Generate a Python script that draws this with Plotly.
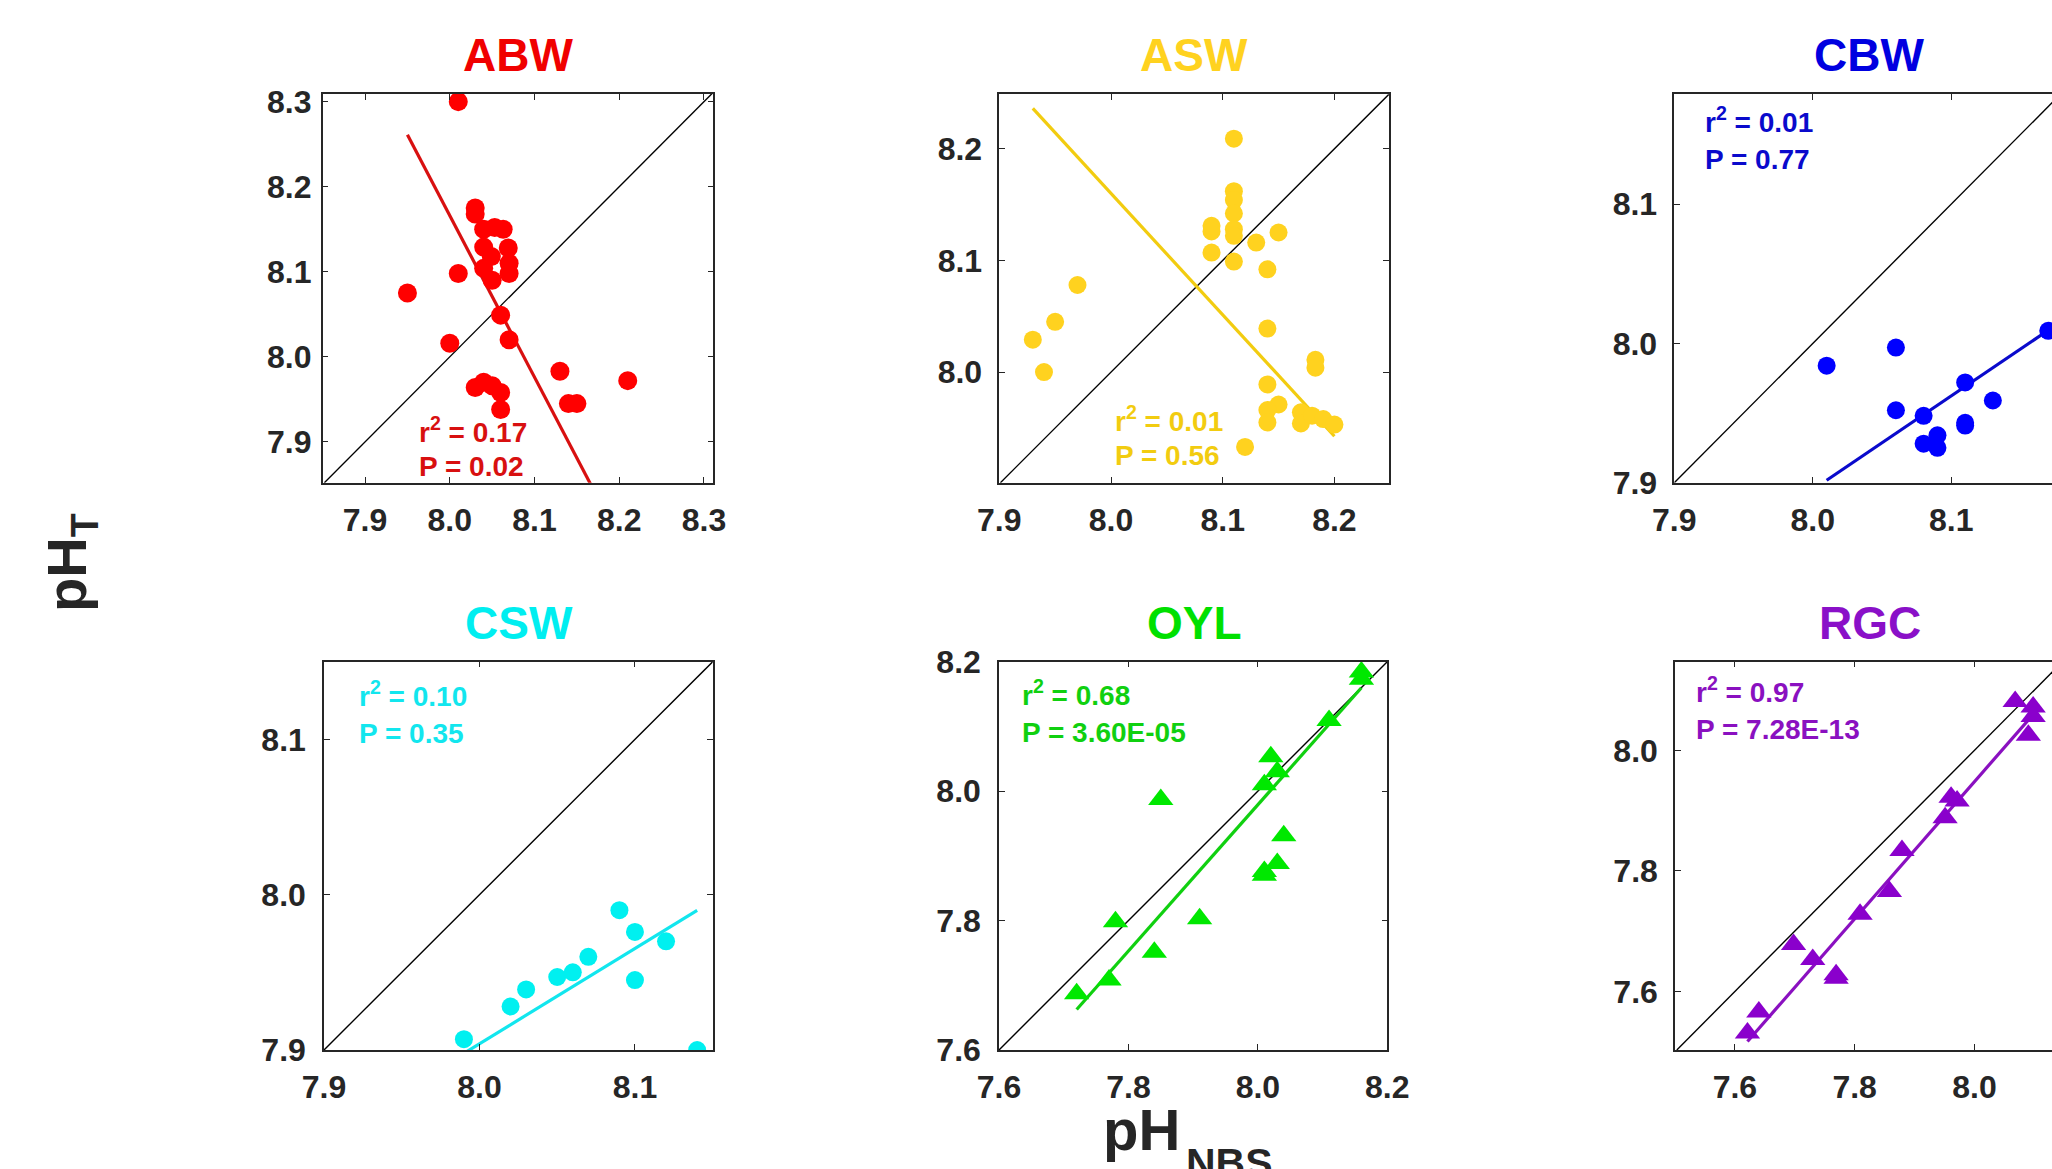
import plotly.graph_objects as go

# ---------------- data ----------------
sites = ["ABW", "ASW", "CBW", "CSW", "OYL", "RGC"]

ABW_x = [8.01, 8.03, 8.03, 8.04, 8.053, 8.063, 8.04, 8.069, 8.049, 8.07, 8.04, 8.07, 8.05, 8.01, 7.95,
         8.06, 8.00, 8.07, 8.13, 8.21, 8.03, 8.04, 8.05, 8.06, 8.06, 8.14, 8.15]
ABW_y = [8.30, 8.175, 8.168, 8.15, 8.152, 8.15, 8.129, 8.128, 8.118, 8.11, 8.104, 8.098, 8.09, 8.098, 8.075,
         8.049, 8.016, 8.02, 7.983, 7.972, 7.964, 7.97, 7.966, 7.958, 7.938, 7.945, 7.945]

ASW_x = [8.11, 8.11, 8.11, 8.11, 8.11, 8.11, 8.09, 8.09, 8.09, 8.11, 8.13, 8.15, 8.14, 7.97, 7.95,
         7.93, 7.94, 8.14, 8.183, 8.183, 8.14, 8.15, 8.14, 8.14, 8.17, 8.17, 8.18, 8.19, 8.20, 8.12]
ASW_y = [8.209, 8.162, 8.154, 8.142, 8.128, 8.122, 8.131, 8.126, 8.107, 8.099, 8.116, 8.125, 8.092, 8.078, 8.045,
         8.029, 8.0, 8.039, 8.011, 8.004, 7.989, 7.971, 7.966, 7.955, 7.964, 7.954, 7.961, 7.958, 7.953, 7.933]

CBW_x = [8.01, 8.06, 8.06, 8.08, 8.08, 8.09, 8.09, 8.11, 8.11, 8.11, 8.13, 8.17]
CBW_y = [7.984, 7.997, 7.952, 7.948, 7.928, 7.934, 7.925, 7.972, 7.943, 7.941, 7.959, 8.009]

CSW_x = [7.99, 8.02, 8.03, 8.05, 8.06, 8.07, 8.09, 8.10, 8.10, 8.12, 8.14]
CSW_y = [7.907, 7.928, 7.939, 7.947, 7.95, 7.96, 7.99, 7.976, 7.945, 7.97, 7.90]

OYL_x = [8.16, 8.16, 8.11, 8.02, 8.03, 8.01, 7.85, 8.04, 8.03, 8.01, 8.01, 7.91, 7.78, 7.84, 7.77, 7.72]
OYL_y = [8.184, 8.173, 8.109, 8.053, 8.03, 8.01, 7.987, 7.931, 7.888, 7.876, 7.87, 7.803, 7.798, 7.751, 7.708, 7.687]

RGC_x = [8.068, 8.098, 8.098, 8.09, 7.961, 7.971, 7.951, 7.879, 7.858, 7.809, 7.698, 7.73, 7.769, 7.769, 7.64, 7.621]
RGC_y = [8.081, 8.072, 8.056, 8.025, 7.922, 7.916, 7.888, 7.834, 7.766, 7.728, 7.678, 7.653, 7.628, 7.622, 7.566, 7.531]

# regression line: y = intercept + slope * x
fit_slope = [-1.90, -1.087, 0.673, 0.614, 1.13, 1.137]
fit_intercept = [23.366, 16.856, 2.511, 2.992, -1.061, -1.148]

r2_text = ["0.17", "0.01", "0.01", "0.10", "0.68", "0.97"]
p_text = ["0.02", "0.56", "0.77", "0.35", "3.60E-05", "7.28E-13"]

ticks = [
    [7.9, 8.0, 8.1, 8.2, 8.3],
    [7.9, 8.0, 8.1, 8.2],
    [7.9, 8.0, 8.1],
    [7.9, 8.0, 8.1],
    [7.6, 7.8, 8.0, 8.2],
    [7.6, 7.8, 8.0],
]

xs = [ABW_x, ASW_x, CBW_x, CSW_x, OYL_x, RGC_x]
ys = [ABW_y, ASW_y, CBW_y, CSW_y, OYL_y, RGC_y]

# ---------------- styles / layout ----------------
W, H = 2052, 1169
marker_col = ["#FF0000", "#FFD21F", "#0000FF", "#00F0F0", "#00E800", "#8A00CC"]
line_col = ["#D81010", "#F2CC10", "#0A0ACC", "#12E6EE", "#10D010", "#8A10C0"]
title_col = ["#F00000", "#FFD21F", "#0000E0", "#00EEF0", "#00E000", "#8A10C8"]
symbols = ["circle", "circle", "circle", "circle", "triangle-up", "triangle-up"]
msize = [19, 18, 18, 18, 22, 22]

xranges = [
    [7.85, 8.311],
    [7.90, 8.2486],
    [7.90, 8.1727],
    [7.90, 8.15],
    [7.60, 8.20],
    [7.50, 8.1295],
]
yranges = [
    [7.852, 8.309],
    [7.901, 8.249],
    [7.90, 8.179],
    [7.90, 8.15],
    [7.60, 8.20],
    [7.503, 8.147],
]
# pixel boxes: (left, right, top, bottom)
boxes = [
    (322.7, 713.3, 94.0, 482.7),
    (999.3, 1388.7, 94.0, 482.7),
    (1674.3, 2052.0, 94.0, 482.7),
    (324.0, 712.7, 661.7, 1050.0),
    (999.0, 1387.3, 661.7, 1050.0),
    (1675.0, 2052.0, 661.7, 1050.0),
]
ylab_standoff = [3, 9, 9, 10, 10, 9]
xlab_standoff = [8, 8, 8, 8, 8, 8]
# annotation anchors (data coords): (x_left, y_r2, y_p)
ann_pos = [
    (7.961, 7.914, 7.871),
    (8.002, 7.958, 7.925),
    (7.921, 8.160, 8.132),
    (7.921, 8.129, 8.104),
    (7.633, 8.152, 8.091),
    (7.532, 8.100, 8.034),
]

TICKCOL = "#262626"
FONT = "Liberation Sans, Arial, sans-serif"

fig = go.Figure()
annotations = []
layout = dict(
    template="none",
    width=W, height=H,
    autosize=False,
    margin=dict(l=0, r=0, t=0, b=0, pad=0),
    paper_bgcolor="white", plot_bgcolor="white",
    showlegend=False,
    font=dict(family=FONT),
)

for i, site in enumerate(sites):
    n = "" if i == 0 else str(i + 1)
    xa, ya = "x" + n, "y" + n
    xr, yr = xranges[i], yranges[i]
    lo, hi = max(xr[0], yr[0]), min(xr[1], yr[1]) + 0.02
    fig.add_trace(go.Scatter(x=[lo, hi], y=[lo, hi], mode="lines", xaxis=xa, yaxis=ya,
                             line=dict(color="#000000", width=1.4), hoverinfo="skip"))
    x0, x1 = min(xs[i]), max(xs[i])
    fx = [x0, x1]
    fy = [fit_intercept[i] + fit_slope[i] * v for v in fx]
    fig.add_trace(go.Scatter(x=fx, y=fy, mode="lines", xaxis=xa, yaxis=ya,
                             line=dict(color=line_col[i], width=3.2)))
    fig.add_trace(go.Scatter(x=xs[i], y=ys[i], mode="markers", xaxis=xa, yaxis=ya,
                             marker=dict(symbol=symbols[i], size=msize[i], color=marker_col[i],
                                         line=dict(width=0))))

    l, r, t, b = boxes[i]
    last_col = (i % 3 == 2)
    common = dict(
        showgrid=False, zeroline=False, showline=True, automargin=False,
        linecolor=TICKCOL, linewidth=1.5, ticks="inside", ticklen=6, tickwidth=1.3,
        tickcolor=TICKCOL, tickvals=ticks[i], ticktext=[f"{v:.1f}" for v in ticks[i]],
        tickfont=dict(family=FONT, size=32, color=TICKCOL, weight="bold"),
    )
    layout["xaxis" + n] = dict(common, range=xr, domain=[l / W, r / W], anchor=ya,
                               mirror="ticks", ticklabelstandoff=xlab_standoff[i])
    layout["yaxis" + n] = dict(common, range=yr, domain=[1 - b / H, 1 - t / H], anchor=xa,
                               mirror=False if last_col else "ticks",
                               ticklabelstandoff=ylab_standoff[i])

    ty = 55 if i < 3 else 623
    annotations.append(dict(text=f"<b>{site}</b>", xref="paper", yref="paper",
                            x=(l + 195) / W, y=1 - ty / H, xanchor="center", yanchor="middle",
                            showarrow=False, font=dict(family=FONT, size=46, color=title_col[i])))
    ax_, yr2, yp = ann_pos[i]
    annotations.append(dict(text=f"<b>r<sup>2</sup> = {r2_text[i]}</b>", xref=xa, yref=ya,
                            x=ax_, y=yr2, xanchor="left", yanchor="middle", showarrow=False,
                            font=dict(family=FONT, size=28, color=line_col[i])))
    annotations.append(dict(text=f"<b>P = {p_text[i]}</b>", xref=xa, yref=ya,
                            x=ax_, y=yp, xanchor="left", yanchor="middle", showarrow=False,
                            font=dict(family=FONT, size=28, color=line_col[i])))

# shared y title
annotations.append(dict(text="<b>pH<sub>T</sub></b>", xref="paper", yref="paper",
                        x=70 / W, y=1 - 563 / H, xanchor="center", yanchor="middle",
                        textangle=-90, showarrow=False,
                        font=dict(family=FONT, size=56, color=TICKCOL)))
# shared x title: main part and its (lowered, partly cropped) subscript
annotations.append(dict(text="<b>pH</b>", xref="paper", yref="paper",
                        x=1182 / W, y=1 - 1095 / H, xanchor="right", yanchor="top",
                        showarrow=False,
                        font=dict(family=FONT, size=58, color=TICKCOL)))
annotations.append(dict(text="<b>NBS</b>", xref="paper", yref="paper",
                        x=1184 / W, y=1 - 1138 / H, xanchor="left", yanchor="top",
                        showarrow=False,
                        font=dict(family=FONT, size=41, color=TICKCOL)))

layout["annotations"] = annotations
fig.update_layout(**layout)
fig.write_html("out.html")
